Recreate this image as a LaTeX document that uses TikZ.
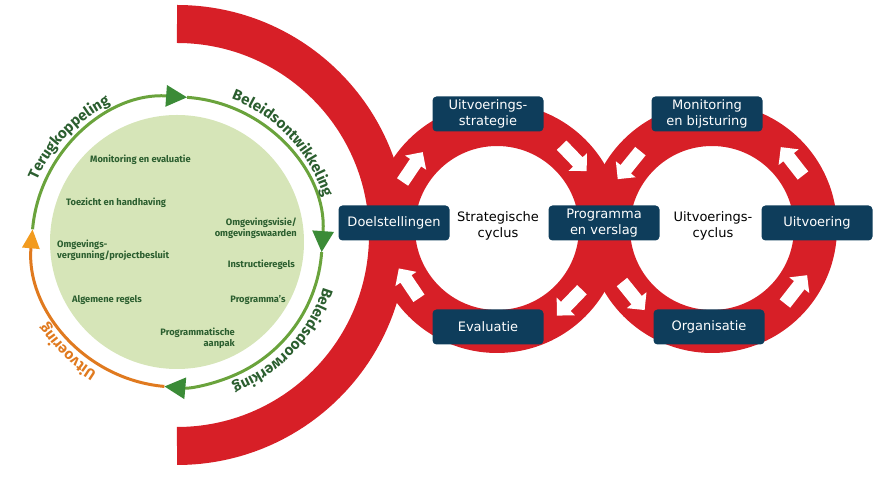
\documentclass[tikz,border=0pt]{standalone}
\usepackage{fontspec}
\setmainfont{DejaVu Sans}
\newfontfamily\greenfont{Fira Sans}
\usetikzlibrary{arrows.meta,shapes.arrows,decorations.text}

\definecolor{ringred}{HTML}{D71F27}
\definecolor{boxblue}{HTML}{0E3D5B}
\definecolor{discgreen}{HTML}{D6E5B8}
\definecolor{linegreen}{HTML}{6AA33C}
\definecolor{headgreen}{HTML}{3B8B37}
\definecolor{lineorange}{HTML}{E07A1F}
\definecolor{headorange}{HTML}{F29B1F}
\definecolor{textgreen}{HTML}{2B5E2F}

\newcommand\arcfont{\greenfont\bfseries\fontsize{15}{18}\selectfont}

\tikzset{
  stepbox/.style={fill=boxblue,text=white,rounded corners=4pt,minimum width=111pt,
    minimum height=35pt,inner sep=2pt,align=center,font=\fontsize{13}{16}\selectfont},
  cyclelabel/.style={align=center,font=\fontsize{13}{16}\selectfont},
  ringarrow/.style={single arrow,fill=white,inner sep=6.5pt,single arrow head extend=6pt,
    single arrow tip angle=90,minimum height=36pt},
  ring/.style={draw=ringred,line width=43pt},
  item/.style={text=textgreen,inner sep=0pt,font=\greenfont\bfseries\fontsize{9.3}{11}\selectfont},
  greenarc/.style={linegreen,line width=3pt,-{Triangle[length=21pt,width=21pt,color=headgreen]}},
  orangearc/.style={lineorange,line width=3pt,-{Triangle[length=19pt,width=17pt,color=headorange]}},
  arctext/.style={decorate,decoration={text along path,text align=center,text color=#1}},
}

\begin{document}
\begin{tikzpicture}[x=1pt,y=1pt]
  \useasboundingbox (0,0) rectangle (887,478);
  \coordinate (hub) at (177,243);
  \coordinate (disc) at (177,236);
  \coordinate (strat) at (497,250);
  \coordinate (uitv) at (712,250);

  % red bands
  \draw[ringred,line width=38pt] (hub) ++(90:211) arc[start angle=90,end angle=-90,radius=211];
  \draw[ring] (strat) circle[radius=103.5];
  \draw[ring] (uitv) circle[radius=103.5];

  \node[ringarrow,rotate=56] (sa1) at ([shift={(146:104)}]strat) {};
  \node[ringarrow,rotate=-46] (sa2) at ([shift={(44:104)}]strat) {};
  \node[ringarrow,rotate=-134] (sa3) at ([shift={(-44:104)}]strat) {};
  \node[ringarrow,rotate=124] (sa4) at ([shift={(-146:104)}]strat) {};
  \node[ringarrow,rotate=231] (ua1) at ([shift={(141:104)}]uitv) {};
  \node[ringarrow,rotate=128] (ua2) at ([shift={(38:104)}]uitv) {};
  \node[ringarrow,rotate=52] (ua3) at ([shift={(-38:104)}]uitv) {};
  \node[ringarrow,rotate=-51] (ua4) at ([shift={(-141:104)}]uitv) {};

  \node[stepbox] (doel) at (394,255) {Doelstellingen};
  \node[stepbox] (strategie) at (488,364) {Uitvoerings-\\strategie};
  \node[stepbox] (prog) at (604,255) {Programma\\en verslag};
  \node[stepbox] (eval) at (488,151) {Evaluatie};
  \node[stepbox] (monitor) at (707,364) {Monitoring\\en bijsturing};
  \node[stepbox] (uitvoering) at (817,255) {Uitvoering};
  \node[stepbox] (org) at (709,151) {Organisatie};
  \node[cyclelabel] (stratlabel) at (498,252) {Strategische\\cyclus};
  \node[cyclelabel] (uitvlabel) at (713,252) {Uitvoerings-\\cyclus};

  % beleidscyclus
  \fill[discgreen] (disc) circle[radius=127];
  \draw[greenarc] (disc) ++(175:145) arc[start angle=175,end angle=86,radius=145];
  \draw[greenarc] (disc) ++(86:145) arc[start angle=86,end angle=-4,radius=145];
  \draw[greenarc] (disc) ++(-4:145) arc[start angle=-4,end angle=-95,radius=145];
  \draw[orangearc] (disc) ++(-95:145) arc[start angle=-95,end angle=-185,radius=145];

  \path[arctext=textgreen,decoration={text={|\arcfont|Terugkoppeling}}]
    (disc) ++(181:153) arc[start angle=181,end angle=91,radius=153];
  \path[arctext=textgreen,decoration={text={|\arcfont|Beleidsontwikkeling}}]
    (disc) ++(88:153) arc[start angle=88,end angle=-2,radius=153];
  \path[arctext=textgreen,decoration={text={|\arcfont|Beleidsdoorwerking}}]
    (disc) ++(2:153) arc[start angle=2,end angle=-88,radius=153];
  \path[arctext=lineorange,decoration={text={|\arcfont|Uitvoering}}]
    (disc) ++(-90:153) arc[start angle=-90,end angle=-180,radius=153];

  \node[item,anchor=west] (mon) at (90,318) {Monitoring en evaluatie};
  \node[item,anchor=west] (toez) at (66,275) {Toezicht en handhaving};
  \node[item,anchor=west,align=left] (vergun) at (57,228) {Omgevings-\\vergunning/projectbesluit};
  \node[item] (alg) at (107,178) {Algemene regels};
  \node[item,anchor=east,align=right] (visie) at (297,250) {Omgevingsvisie/\\omgevingswaarden};
  \node[item,anchor=east] (instr) at (295,213) {Instructieregels};
  \node[item] (progs) at (258,178) {Programma’s};
  \node[item,anchor=east,align=right] (aanpak) at (235,140) {Programmatische\\aanpak};
\end{tikzpicture}
\end{document}
